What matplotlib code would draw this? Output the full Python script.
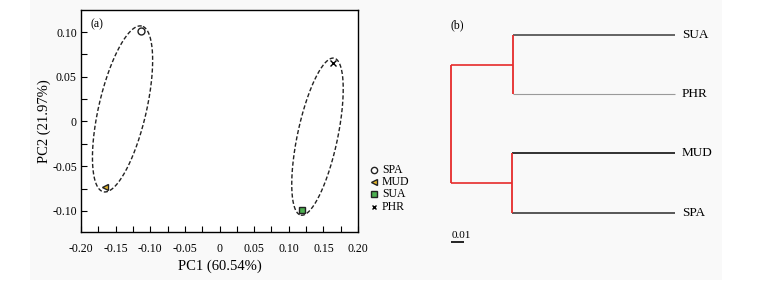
import numpy as np
import matplotlib
matplotlib.use("Agg")
import matplotlib.pyplot as plt
from matplotlib.ticker import FuncFormatter, MultipleLocator
from matplotlib.patches import Rectangle
from matplotlib.lines import Line2D

plt.rcParams['font.family'] = ['Liberation Serif', 'DejaVu Serif']

# ---------------- data ----------------
groups = ['SPA', 'MUD', 'SUA', 'PHR']
pc1 = [-0.114, -0.166, 0.119, 0.164]
pc2 = [0.101, -0.073, -0.099, 0.065]
marker_shapes = ['o', '<', 's', 'x']
marker_faces = ['white', '#e8b828', '#4caf50', 'black']

ellipse_pairs = [(0, 1), (2, 3)]
ellipse_major_scale = [1.065, 1.07]
ellipse_minor_ratio = [0.28, 0.25]

leaf_names = ['SUA', 'PHR', 'MUD', 'SPA']
leaf_colors = ['#4a4a4a', '#9a9a9a', '#111111', '#4a4a4a']
leaf_widths = [1.2, 0.8, 1.2, 1.3]
cluster_members = [(0, 1), (2, 3)]
cluster_heights = [0.119, 0.120]
root_height = 0.165
scale_bar = 0.01

W, H = 762, 284
fig = plt.figure(figsize=(W / 100, H / 100), dpi=100)
fig.patches.append(Rectangle((30 / W, 4 / H), 692 / W, 280 / H, transform=fig.transFigure,
                             facecolor='#f9f9f9', edgecolor='none', zorder=-10))

def px_axes(l, t, r, b):
    return fig.add_axes([l / W, 1 - b / H, (r - l) / W, (b - t) / H])

# ---------------- panel (a) ----------------
ax = px_axes(81, 10, 358, 232)
ax.set_facecolor('white')
ax.set_xlim(-0.20, 0.20)
ax.set_ylim(-0.1236, 0.1246)

fmt = FuncFormatter(lambda v, p: '0' if abs(v) < 1e-9 else f'{v:.2f}')
ax.xaxis.set_major_locator(MultipleLocator(0.05))
ax.xaxis.set_minor_locator(MultipleLocator(0.025))
ax.yaxis.set_major_locator(MultipleLocator(0.05))
ax.yaxis.set_minor_locator(MultipleLocator(0.025))
ax.xaxis.set_major_formatter(fmt)
ax.yaxis.set_major_formatter(fmt)
ax.tick_params(which='both', direction='in', length=4, width=0.8, top=False, right=False)
ax.tick_params(axis='x', which='major', labelsize=8.5, pad=8)
ax.tick_params(axis='y', which='major', labelsize=8.5, pad=3)
for s in ax.spines.values():
    s.set_linewidth(1.0)
ax.set_xlabel('PC1 (60.54%)', fontsize=10.5, labelpad=3)
ax.set_ylabel('PC2 (21.97%)', fontsize=10.5, labelpad=1)
ax.text(0.033, 0.935, '(a)', transform=ax.transAxes, fontsize=8.5, va='center', ha='left')

# ellipses built in display space from the point pairs
fig.canvas.draw()
t = np.linspace(0, 2 * np.pi, 300)
for (i, j), sc, rt in zip(ellipse_pairs, ellipse_major_scale, ellipse_minor_ratio):
    p = ax.transData.transform([[pc1[i], pc2[i]], [pc1[j], pc2[j]]])
    c = p.mean(axis=0)
    d = (p[0] - p[1]) / 2
    a = np.hypot(*d) * sc
    u = d / np.hypot(*d)
    v = np.array([-u[1], u[0]])
    b = a * rt
    pts = c + np.outer(a * np.cos(t), u) + np.outer(b * np.sin(t), v)
    dpts = ax.transData.inverted().transform(pts)
    ax.plot(dpts[:, 0], dpts[:, 1], color='#222222', lw=1.0, dashes=(3, 1.6), zorder=2)

for g, x, y, m, fc in zip(groups, pc1, pc2, marker_shapes, marker_faces):
    if m == 'x':
        ax.plot(x, y, m, color='black', ms=4, mew=1.0, zorder=3)
    else:
        ax.plot(x, y, m, mfc=fc, mec='#222222', ms=5, mew=1.0, zorder=3)

# legend (drawn manually to match the tight row spacing)
for k, (g, m, fc) in enumerate(zip(groups, marker_shapes, marker_faces)):
    ypix = 170 + 12.2 * k
    yf = 1 - ypix / H
    if m == 'x':
        ln = Line2D([374 / W], [yf], ls='none', marker=m, color='black', ms=3.5, mew=1.0,
                    transform=fig.transFigure)
    else:
        ln = Line2D([374 / W], [yf], ls='none', marker=m, mfc=fc, mec='#222222', ms=4.5, mew=1.0,
                    transform=fig.transFigure)
    fig.add_artist(ln)
    fig.text(382 / W, yf, g, fontsize=8.5, va='center', ha='left')

# ---------------- panel (b) ----------------
ax2 = px_axes(440, 10, 720, 260)
ax2.axis('off')
px_per_unit = 1360.0
leaf_px = 675.0
ax2.set_xlim((leaf_px - 440) / px_per_unit, (leaf_px - 720) / px_per_unit)
ax2.set_ylim((260 - 35) / 59.2, (10 - 35) / 59.2)

red = '#e62b2b'
leaf_y = np.arange(len(leaf_names), dtype=float)
node_y = []
for (i, j), h in zip(cluster_members, cluster_heights):
    for k in (i, j):
        ax2.plot([h, 0], [leaf_y[k], leaf_y[k]], color=leaf_colors[k], lw=leaf_widths[k], solid_capstyle='butt')
    ax2.plot([h, h], [leaf_y[i], leaf_y[j]], color=red, lw=1.3, solid_capstyle='butt')
    node_y.append((leaf_y[i] + leaf_y[j]) / 2)
for ny, h in zip(node_y, cluster_heights):
    ax2.plot([root_height, h], [ny, ny], color=red, lw=1.2, solid_capstyle='butt')
ax2.plot([root_height, root_height], [node_y[0], node_y[1]], color=red, lw=1.3, solid_capstyle='butt')

for name, y in zip(leaf_names, leaf_y):
    ax2.text(-7 / px_per_unit, y, name, fontsize=9.5, va='center', ha='left')

ax2.text(root_height, -0.17, '(b)', fontsize=8.5, va='center', ha='left')
ax2.plot([root_height, root_height - scale_bar], [3.49, 3.49], color='black', lw=1.2, solid_capstyle='butt')
ax2.text(root_height - 1 / px_per_unit, 3.43, f'{scale_bar:.2f}', fontsize=8, va='baseline', ha='left')

fig.savefig('out.png', dpi=100)
